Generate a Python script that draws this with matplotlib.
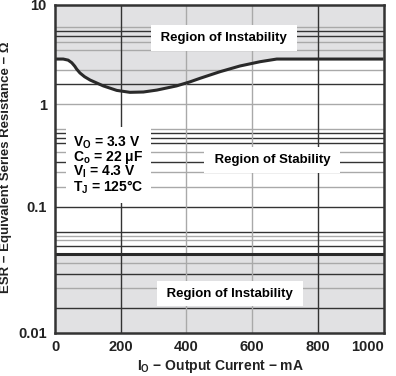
import numpy as np
import matplotlib
matplotlib.use('Agg')
import matplotlib.pyplot as plt
from matplotlib.ticker import NullLocator

plt.rcParams['font.family'] = ['Liberation Sans', 'DejaVu Sans']
plt.rcParams['font.weight'] = 'bold'
plt.rcParams['mathtext.fontset'] = 'custom'
plt.rcParams['mathtext.rm'] = 'Liberation Sans:bold'
plt.rcParams['mathtext.it'] = 'Liberation Sans:bold'
plt.rcParams['mathtext.bf'] = 'Liberation Sans:bold'

# boundary curve (stability limit, upper)
io_ma = [0, 25, 40, 51, 60, 66, 76, 90, 107, 147, 188, 228, 269, 310, 370, 411, 441, 502,
         563, 624, 675, 1000]
esr_max = [2.83, 2.83, 2.76, 2.60, 2.40, 2.24, 2.05, 1.88, 1.74, 1.52, 1.37, 1.31, 1.32, 1.38,
           1.52, 1.67, 1.81, 2.11, 2.41, 2.66, 2.83, 2.83]
esr_min = 0.0423

# horizontal grid lines as drawn on the chart (values, dark/gray)
grid_vals = [6.0, 5.45, 4.82, 4.23, 3.49, 2.18, 1.58, 1.0,
             0.571, 0.519, 0.464, 0.414, 0.343, 0.274, 0.216, 0.155, 0.1,
             0.0634, 0.0589, 0.0545, 0.0489, 0.0356, 0.0292, 0.0226, 0.0157]
grid_dark = [0, 1, 1, 0, 0, 0, 1, 0,
             0, 1, 1, 1, 0, 1, 0, 0, 1,
             1, 0, 0, 1, 0, 1, 0, 1]
vgrid_vals = [200, 400, 600, 800]
vgrid_dark = [1, 0, 0, 1]

# the printed log axis has uneven decades
dec_log = [-2, -1, 0, 1]
dec_pos = [0, 126.3, 229, 328.5]


def fwd(y):
    y = np.clip(np.asarray(y, dtype=float), 1e-6, None)
    return np.interp(np.log10(y), dec_log, dec_pos, left=-1e3, right=1e3)


def inv(p):
    return 10 ** np.interp(p, dec_pos, dec_log)


fig = plt.figure(figsize=(3.96, 3.76), dpi=100)
ax = fig.add_axes([55 / 396, 43 / 376, 328.5 / 396, 328.5 / 376])
ax.set_yscale('function', functions=(fwd, inv))
ax.set_xlim(0, 1000)
ax.set_ylim(0.01, 10)

shade = '#e1e1e3'
ax.fill_between(io_ma, esr_max, 10, color=shade, lw=0, zorder=0)
ax.fill_between([0, 1000], 0.01, esr_min, color=shade, lw=0, zorder=0)

for v, d in zip(grid_vals, grid_dark):
    ax.axhline(v, color='#333333' if d else '#a9a9a9', lw=1.0, zorder=1)
for v, d in zip(vgrid_vals, vgrid_dark):
    ax.axvline(v, color='#333333' if d else '#a9a9a9', lw=1.0, zorder=1)

ax.plot(io_ma, esr_max, color='#2a2a2a', lw=2.2, zorder=3, solid_capstyle='butt')
ax.axhline(esr_min, color='#2a2a2a', lw=2.2, zorder=3)

box = dict(boxstyle='square,pad=0.5', fc='white', ec='none')
ax.text(514, 4.6, ' Region of Instability ', ha='center', va='center', fontsize=9.5,
        bbox=box, zorder=4)
ax.text(661, 0.285, ' Region of Stability ', ha='center', va='center', fontsize=9.5,
        bbox=box, zorder=4)
ax.text(533, 0.0204, ' Region of Instability ', ha='center', va='center', fontsize=9.5,
        bbox=box, zorder=4)

cond = ('V$_\\mathrm{O}$ = 3.3 V\n'
        'C$_\\mathrm{o}$ = 22 \u03bcF\n'
        'V$_\\mathrm{I}$ = 4.3 V\n'
        'T$_\\mathrm{J}$ = 125\u00b0C')
ax.text(55, 0.255, cond, ha='left', va='center', fontsize=10, linespacing=0.85,
        bbox=dict(boxstyle='square,pad=0.5', fc='white', ec='none'), zorder=4)

ax.set_yticks([0.01, 0.1, 1, 10])
ax.set_yticklabels(['0.01', '0.1', '1', '10'])
ax.yaxis.set_minor_locator(NullLocator())
ax.set_xticks([0, 200, 400, 600, 800, 1000])
ax.tick_params(length=0, labelsize=10.5, colors='#222222')
ax.tick_params(axis='x', pad=5)
ax.tick_params(axis='y', pad=6)
for lab in ax.get_xticklabels() + ax.get_yticklabels():
    lab.set_fontweight('bold')
ax.get_xticklabels()[-1].set_horizontalalignment('right')

for s in ax.spines.values():
    s.set_color('#333333')
    s.set_linewidth(1.8)
    s.set_zorder(5)

ax.set_xlabel('I$_\\mathrm{O}$ \u2212 Output Current \u2212 mA', fontsize=10,
              fontweight='bold', color='#222222')
ax.set_ylabel('ESR \u2212 Equivalent Series Resistance \u2212 \u03a9', fontsize=9.5,
              fontweight='bold', color='#222222')
ax.xaxis.set_label_coords(0.505, -0.075)
ax.yaxis.set_label_coords(-0.13, 0.505)

fig.savefig('out.png', dpi=100)
